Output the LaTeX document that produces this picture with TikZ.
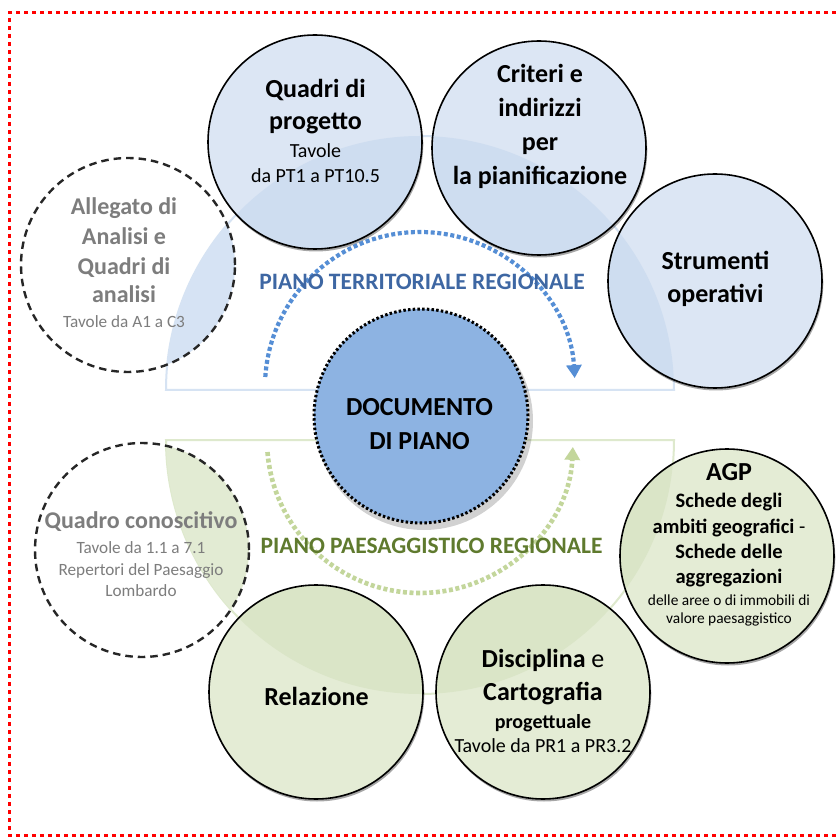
\documentclass[tikz,border=0pt]{standalone}
\usepackage{fontspec}
\setmainfont{Carlito}
\usetikzlibrary{arrows.meta}
\definecolor{framered}{RGB}{255,0,0}
\definecolor{bluefill}{RGB}{220,230,244}
\definecolor{bluefillov}{RGB}{206,221,240}
\definecolor{bluelens}{RGB}{214,227,244}
\definecolor{blueedge}{RGB}{214,227,243}
\definecolor{greenfill}{RGB}{228,236,213}
\definecolor{greenfillov}{RGB}{218,229,199}
\definecolor{greenlens}{RGB}{226,235,211}
\definecolor{greenedge}{RGB}{222,233,205}
\definecolor{docfill}{RGB}{141,179,226}
\definecolor{arcblue}{RGB}{85,142,213}
\definecolor{arcgreen}{RGB}{195,214,155}
\definecolor{ptrblue}{RGB}{62,103,163}
\definecolor{ppgreen}{RGB}{95,122,46}
\definecolor{graytext}{RGB}{125,125,125}
\tikzset{
  frame/.style={framered, line width=3pt, dash pattern=on 4pt off 4pt},
  solidc/.style={circle, draw=black, line width=1.6pt, minimum size=214pt, inner sep=0pt},
  dashc/.style={circle, draw=black!85, line width=2.4pt, dash pattern=on 7.5pt off 5pt, minimum size=214pt, inner sep=0pt},
  docc/.style={circle, fill=docfill, draw=black, line width=3pt, dash pattern=on 2.5pt off 2.2pt, minimum size=214pt, inner sep=0pt},
  cshadow/.style={black, opacity=0.35},
  semiedge/.style={line width=2pt},
  bluearc/.style={arcblue, line width=4.2pt, dash pattern=on 4pt off 2.6pt, -{Triangle[width=15pt,length=13pt]}},
  greenarc/.style={arcgreen, line width=4.6pt, dash pattern=on 4pt off 2.6pt, -{Triangle[width=15pt,length=13pt]}},
  tb/.style={anchor=base, inner sep=0pt, font=\bfseries\fontsize{26}{31}\selectfont},
  tbm/.style={anchor=base, inner sep=0pt, font=\bfseries\fontsize{20.5}{25}\selectfont},
  tr/.style={anchor=base, inner sep=0pt, font=\fontsize{20}{24}\selectfont},
  ts/.style={anchor=base, inner sep=0pt, font=\fontsize{15.4}{18}\selectfont},
  gb/.style={anchor=base, inner sep=0pt, text=graytext, font=\bfseries\fontsize{24}{29}\selectfont},
  gr/.style={anchor=base, inner sep=0pt, text=graytext, font=\fontsize{17.2}{21}\selectfont},
  plabel/.style={anchor=base, inner sep=0pt, font=\bfseries\fontsize{23.5}{28}\selectfont},
}
\begin{document}
\begin{tikzpicture}[x=1pt,y=-1pt]
\useasboundingbox (0,0) rectangle (839,837);
\clip (0,0) rectangle (839,837);
\fill[white] (0,0) rectangle (839,837);

% red dotted frame (open on the right)
\coordinate (fr1) at (860,13);
\coordinate (fr2) at (9,13);
\coordinate (fr3) at (9,835);
\coordinate (fr4) at (860,835);
\draw[frame] (fr1) -- (fr2) -- (fr3) -- (fr4);

% background half discs (outlines)
\draw[semiedge, blueedge] (166,390) arc[start angle=180, end angle=360, radius=254] -- cycle;
\draw[semiedge, greenedge] (166,440) arc[start angle=180, end angle=0, radius=254] -- cycle;

% shadows of the solid circles
\foreach \cx/\cy in {315/142, 539/148, 715/281, 316/692, 543/692, 727/556}
  \fill[cshadow] (\cx+1,\cy+2.2) circle[radius=107.3];

% base fills
\fill[bluefill] (315,142) circle[radius=107];
\fill[bluefill] (539,148) circle[radius=107];
\fill[bluefill] (715,281) circle[radius=107];
\fill[greenfill] (316,692) circle[radius=107];
\fill[greenfill] (543,692) circle[radius=107];
\fill[greenfill] (727,556) circle[radius=107];

% parts lying inside the half discs
\begin{scope}
  \clip (166,390) arc[start angle=180, end angle=360, radius=254] -- cycle;
  \fill[bluefillov] (315,142) circle[radius=107];
  \fill[bluefillov] (539,148) circle[radius=107];
  \fill[bluefillov] (715,281) circle[radius=107];
  \fill[bluelens] (128,265) circle[radius=107];
\end{scope}
\begin{scope}
  \clip (166,440) arc[start angle=180, end angle=0, radius=254] -- cycle;
  \fill[greenfillov] (316,692) circle[radius=107];
  \fill[greenfillov] (543,692) circle[radius=107];
  \fill[greenfillov] (727,556) circle[radius=107];
  \fill[greenlens] (142,550) circle[radius=107];
\end{scope}

% circle outlines
\node[solidc] (quadri) at (315,142) {};
\node[solidc] (criteri) at (539,148) {};
\node[solidc] (strumenti) at (715,281) {};
\node[solidc] (relazione) at (316,692) {};
\node[solidc] (disciplina) at (543,692) {};
\node[solidc] (agp) at (727,556) {};
\node[dashc] (allegato) at (128,265) {};
\node[dashc] (conoscitivo) at (142,550) {};

% central circle
\fill[black, opacity=0.18] (424,421) circle[radius=109];
\node[docc] (doc) at (421,416) {};

% dotted arcs
\coordinate (ptrstart) at (265.3,377);
\draw[bluearc] (ptrstart) arc[start angle=183.7, end angle=356.7, radius=155];
\coordinate (ppstart) at (267.5,452);
\draw[greenarc] (ppstart) arc[start angle=175.5, end angle=2.6, radius=153];

% labels of the two plans
\node[plabel, text=ptrblue] (ptr) at (422,290) {PIANO TERRITORIALE REGIONALE};
\node[plabel, text=ppgreen] (pp) at (431.5,553) {PIANO PAESAGGISTICO REGIONALE};

% Quadri di progetto
\node[tb] (q1) at (315.5,98) {Quadri di};
\node[tb] (q2) at (315.5,130) {progetto};
\node[tr] (q3) at (315.5,158) {Tavole};
\node[tr] (q4) at (315.5,183) {da PT1 a PT10.5};

% Criteri e indirizzi
\node[tb] (c1) at (540,83) {Criteri e};
\node[tb] (c2) at (540,117) {indirizzi};
\node[tb] (c3) at (540,151) {per};
\node[tb] (c4) at (540,185) {la pianificazione};

% Strumenti operativi
\node[tb] (s1) at (715.5,270) {Strumenti};
\node[tb] (s2) at (715.5,303) {operativi};

% Documento di piano
\node[tb] (d1) at (419.5,416) {DOCUMENTO};
\node[tb] (d2) at (419.5,449) {DI PIANO};

% Allegato di analisi
\node[gb] (a1) at (124,215) {Allegato di};
\node[gb] (a2) at (124,245) {Analisi e};
\node[gb] (a3) at (124,275) {Quadri di};
\node[gb] (a4) at (124,303) {analisi};
\node[gr] (a5) at (124,328) {Tavole da A1 a C3};

% Quadro conoscitivo
\node[gb] (k1) at (141,528) {Quadro conoscitivo};
\node[gr] (k2) at (141,553) {Tavole da 1.1 a 7.1};
\node[gr] (k3) at (141,575) {Repertori del Paesaggio};
\node[gr] (k4) at (141,596) {Lombardo};

% Relazione
\node[tb] (r1) at (316.5,705) {Relazione};

% Disciplina e Cartografia
\node[tb] (p1) at (543,667) {Disciplina {\mdseries e}};
\node[tb] (p2) at (543,700) {Cartografia};
\node[tbm, font=\bfseries\fontsize{20}{24}\selectfont] (p3) at (543,728) {progettuale};
\node[tr] (p4) at (543,752) {Tavole da PR1 a PR3.2};

% AGP
\node[tb] (g1) at (729,480) {AGP};
\node[tbm] (g2) at (729,507) {Schede degli};
\node[tbm] (g3) at (729,533) {ambiti geografici {\mdseries -}};
\node[tbm] (g4) at (729,558) {Schede delle};
\node[tbm] (g5) at (729,583) {aggregazioni};
\node[ts] (g6) at (729,605) {delle aree o di immobili di};
\node[ts] (g7) at (729,623) {valore paesaggistico};
\end{tikzpicture}
\end{document}
